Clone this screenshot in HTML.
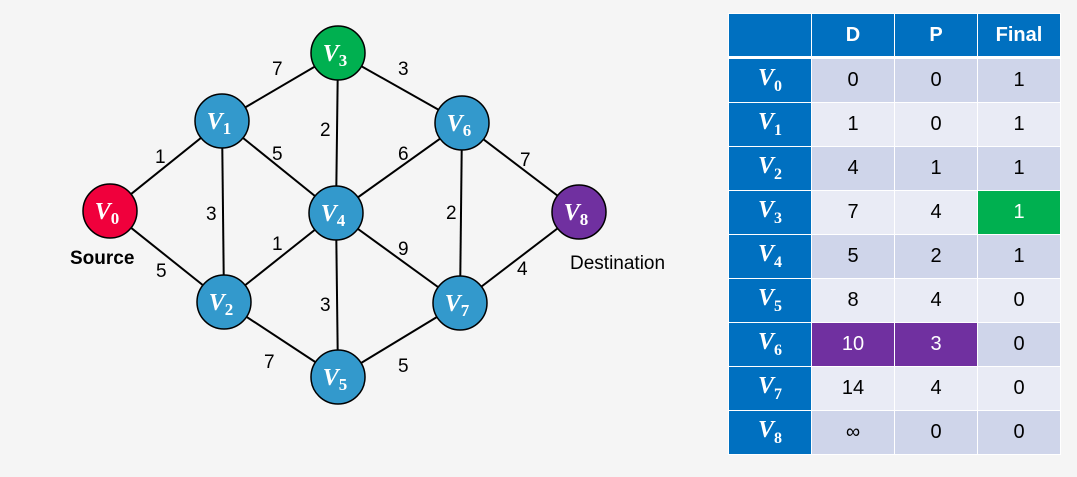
<!DOCTYPE html>
<html><head><style>
body{margin:0;background:#f5f5f5;width:1077px;height:477px;overflow:hidden;font-family:"Liberation Sans",sans-serif}
svg{position:absolute;left:0;top:0}
table{position:absolute;left:728px;top:13px;border-collapse:collapse}
td{width:82px;text-align:center;font-size:20px;color:#000;border:1px solid #fff;padding:0;height:43px}
tr.h td{background:#0070c0;color:#fff;font-weight:bold;height:42px;border-bottom:3px solid #fff}
td.l{background:#0070c0;color:#fff;font-family:"Liberation Serif",serif;font-style:italic;font-weight:bold;font-size:24px}
td.l sub{font-size:16px;font-style:normal}
tr.a td{background:#cfd5ea} tr.b td{background:#e9ebf5}
tr td.l{background:#0070c0}
td.g{background:#00b050!important;color:#fff} td.p{background:#7030a0!important;color:#fff}
</style></head><body>
<svg width="700" height="477" font-family="Liberation Sans, sans-serif">
<g stroke="#000" stroke-width="2">
<line x1="110" y1="211" x2="222" y2="121"/><line x1="110" y1="211" x2="224" y2="302"/>
<line x1="222" y1="121" x2="338" y2="53"/><line x1="222" y1="121" x2="224" y2="302"/>
<line x1="222" y1="121" x2="336" y2="213"/><line x1="338" y1="53" x2="336" y2="213"/>
<line x1="338" y1="53" x2="462" y2="123"/><line x1="462" y1="123" x2="336" y2="213"/>
<line x1="462" y1="123" x2="579" y2="212"/><line x1="462" y1="123" x2="460" y2="303"/>
<line x1="224" y1="302" x2="336" y2="213"/><line x1="336" y1="213" x2="460" y2="303"/>
<line x1="336" y1="213" x2="338" y2="377"/><line x1="224" y1="302" x2="338" y2="377"/>
<line x1="338" y1="377" x2="460" y2="303"/><line x1="460" y1="303" x2="579" y2="212"/>
</g>
<g font-size="19" fill="#000">
<text x="155" y="163">1</text><text x="156" y="277">5</text><text x="272" y="75">7</text>
<text x="398" y="75">3</text><text x="206" y="220">3</text><text x="272" y="160">5</text>
<text x="320" y="136">2</text><text x="398" y="160">6</text><text x="520" y="166">7</text>
<text x="446" y="219">2</text><text x="272" y="250">1</text><text x="398" y="255">9</text>
<text x="320" y="311">3</text><text x="264" y="368">7</text><text x="398" y="372">5</text>
<text x="517" y="275">4</text>
</g>
<g font-size="19" font-weight="bold"><text x="70" y="264">Source</text><text x="570" y="269" font-weight="normal">Destination</text></g>
<g stroke="#000" stroke-width="1.5">
<circle cx="110" cy="211" r="27" fill="#f0003c"/><circle cx="222" cy="121" r="27" fill="#3399cc"/>
<circle cx="338" cy="53" r="27" fill="#00b050"/><circle cx="462" cy="123" r="27" fill="#3399cc"/>
<circle cx="336" cy="213" r="27" fill="#3399cc"/><circle cx="579" cy="212" r="27" fill="#7030a0"/>
<circle cx="224" cy="302" r="27" fill="#3399cc"/><circle cx="460" cy="303" r="27" fill="#3399cc"/>
<circle cx="338" cy="377" r="27" fill="#3399cc"/>
</g>
<g fill="#fff" font-family="Liberation Serif, serif" font-weight="bold" font-size="24" text-anchor="middle">
<text x="107" y="219"><tspan font-style="italic">V</tspan><tspan font-size="17" dy="5">0</tspan></text>
<text x="219" y="129"><tspan font-style="italic">V</tspan><tspan font-size="17" dy="5">1</tspan></text>
<text x="335" y="61"><tspan font-style="italic">V</tspan><tspan font-size="17" dy="5">3</tspan></text>
<text x="459" y="131"><tspan font-style="italic">V</tspan><tspan font-size="17" dy="5">6</tspan></text>
<text x="333" y="221"><tspan font-style="italic">V</tspan><tspan font-size="17" dy="5">4</tspan></text>
<text x="576" y="220"><tspan font-style="italic">V</tspan><tspan font-size="17" dy="5">8</tspan></text>
<text x="221" y="310"><tspan font-style="italic">V</tspan><tspan font-size="17" dy="5">2</tspan></text>
<text x="457" y="311"><tspan font-style="italic">V</tspan><tspan font-size="17" dy="5">7</tspan></text>
<text x="335" y="385"><tspan font-style="italic">V</tspan><tspan font-size="17" dy="5">5</tspan></text>
</g>
</svg>
<table>
<tr class="h"><td></td><td>D</td><td>P</td><td>Final</td></tr>
<tr class="a"><td class="l">V<sub>0</sub></td><td>0</td><td>0</td><td>1</td></tr>
<tr class="b"><td class="l">V<sub>1</sub></td><td>1</td><td>0</td><td>1</td></tr>
<tr class="a"><td class="l">V<sub>2</sub></td><td>4</td><td>1</td><td>1</td></tr>
<tr class="b"><td class="l">V<sub>3</sub></td><td>7</td><td>4</td><td class="g">1</td></tr>
<tr class="a"><td class="l">V<sub>4</sub></td><td>5</td><td>2</td><td>1</td></tr>
<tr class="b"><td class="l">V<sub>5</sub></td><td>8</td><td>4</td><td>0</td></tr>
<tr class="a"><td class="l">V<sub>6</sub></td><td class="p">10</td><td class="p">3</td><td>0</td></tr>
<tr class="b"><td class="l">V<sub>7</sub></td><td>14</td><td>4</td><td>0</td></tr>
<tr class="a"><td class="l">V<sub>8</sub></td><td>∞</td><td>0</td><td>0</td></tr>
</table>
</body></html>
